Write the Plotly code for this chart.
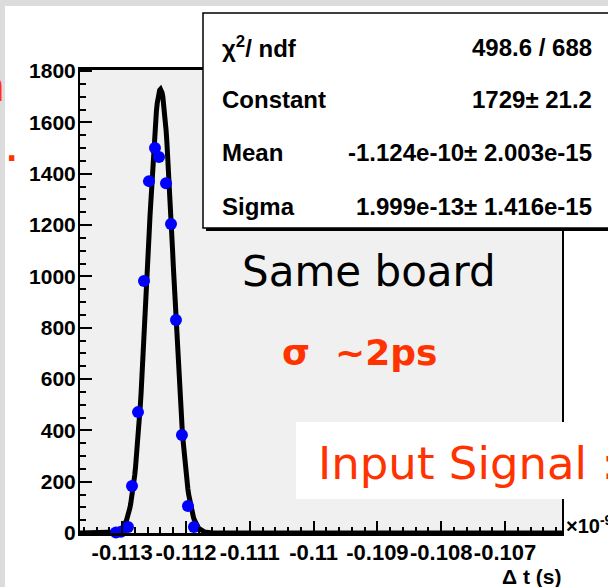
import numpy as np
import plotly.graph_objects as go

# ---- data ----
x_vals = [-0.113097, -0.113019, -0.112909, -0.112846, -0.112752, -0.112658, -0.112580,
          -0.112486, -0.112423, -0.112313, -0.112235, -0.112157, -0.112063, -0.111969, -0.111875]
counts = [2, 5, 23, 183, 471, 982, 1371, 1500, 1465, 1363, 1204, 830, 382, 105, 23]

# fit parameters (from stats box), x in units of 1e-9 s
FIT_CONSTANT = 1729.0
FIT_MEAN = -0.1124
FIT_SIGMA = 0.0001999

x_tickvals = [-0.113, -0.112, -0.111, -0.110, -0.109, -0.108, -0.107]
x_ticktext = ["-0.113", "-0.112", "-0.111", "-0.11", "-0.109", "-0.108", "-0.107"]
y_tickvals = [0, 200, 400, 600, 800, 1000, 1200, 1400, 1600, 1800]

stats_labels = ["\u03c7<sup>2</sup>/ ndf", "Constant", "Mean", "Sigma"]
stats_values = ["498.6 / 688", "1729\u00b1 21.2", "-1.124e-10\u00b1 2.003e-15", "1.999e-13\u00b1 1.416e-15"]

X_RANGE = [-0.113661, -0.106107]
Y_RANGE = [0, 1804]

# ---- geometry helpers (pixel -> paper) ----
W, H = 608, 587
L, R, T, B = 80, 562, 70, 533
def px(x):
    return (x - L) / (R - L)
def py(y):
    return (B - y) / (B - T)

RED = "#ff3300"

xf = np.linspace(X_RANGE[0], X_RANGE[1], 600)
yf = FIT_CONSTANT * np.exp(-0.5 * ((xf - FIT_MEAN) / FIT_SIGMA) ** 2)

fig = go.Figure()
fig.add_trace(go.Scatter(x=xf, y=yf, mode="lines",
                         line=dict(color="black", width=5), hoverinfo="skip"))
fig.add_trace(go.Scatter(x=x_vals, y=counts, mode="markers",
                         marker=dict(color="#0000ff", size=12, line=dict(width=0)),
                         cliponaxis=False))

xtickfont = dict(family="Liberation Sans, Arial, sans-serif", size=22, color="black", weight="bold")
ytickfont = dict(family="Liberation Sans, Arial, sans-serif", size=21, color="black", weight="bold")

fig.update_layout(
    width=W, height=H,
    margin=dict(l=L, r=W - R, t=T, b=H - B, pad=0),
    paper_bgcolor="white", plot_bgcolor="#f0f0f0",
    showlegend=False,
    xaxis=dict(range=X_RANGE, tickmode="array", tickvals=x_tickvals, ticktext=x_ticktext,
               tickangle=0, automargin=False,
               ticks="inside", ticklen=12, tickwidth=2, tickcolor="black",
               minor=dict(ticks="inside", ticklen=6, tickwidth=2, tickcolor="black",
                          tickmode="linear", tick0=-0.113, dtick=0.0002),
               showgrid=False, zeroline=False, showline=True, linecolor="black",
               linewidth=2.5, mirror=True, tickfont=xtickfont, ticklabelstandoff=-2),
    yaxis=dict(range=Y_RANGE, tickmode="array", tickvals=y_tickvals, automargin=False,
               ticks="inside", ticklen=12, tickwidth=2, tickcolor="black",
               minor=dict(ticks="inside", ticklen=6, tickwidth=2, tickcolor="black",
                          tickmode="linear", tick0=0, dtick=50),
               showgrid=False, zeroline=False, showline=True, linecolor="black",
               linewidth=2, mirror=True, tickfont=ytickfont, ticklabelstandoff=-2),
)

shapes = []
# slide background strips
shapes.append(dict(type="rect", xref="paper", yref="paper", x0=px(0), x1=px(W), y0=py(0), y1=py(6),
                   fillcolor="#dcdcdc", line=dict(width=0), layer="above"))
shapes.append(dict(type="rect", xref="paper", yref="paper", x0=px(0), x1=px(5), y0=py(0), y1=py(H),
                   fillcolor="#dcdcdc", line=dict(width=0), layer="above"))
# stats box shadow + box
shapes.append(dict(type="rect", xref="paper", yref="paper", x0=px(206), x1=px(650), y0=py(16), y1=py(231),
                   fillcolor="black", line=dict(width=0), layer="above"))
shapes.append(dict(type="rect", xref="paper", yref="paper", x0=px(203), x1=px(640), y0=py(13), y1=py(228),
                   fillcolor="white", line=dict(color="black", width=1.5), layer="above"))
# white box behind "Input Signal"
shapes.append(dict(type="rect", xref="paper", yref="paper", x0=px(296), x1=px(660), y0=py(422), y1=py(499),
                   fillcolor="white", line=dict(width=0), layer="above"))
fig.update_layout(shapes=shapes)

ann = []
stat_font = dict(family="Liberation Sans, Arial, sans-serif", size=24, color="black", weight="bold")
row_y = [47, 99, 153, 207]
for lab, val, yy in zip(stats_labels, stats_values, row_y):
    ann.append(dict(xref="paper", yref="paper", x=px(220), y=py(yy), text=lab, showarrow=False,
                    xanchor="left", yanchor="middle", font=stat_font))
    ann.append(dict(xref="paper", yref="paper", x=px(594), y=py(yy), text=val, showarrow=False,
                    xanchor="right", yanchor="middle", font=stat_font))

ann.append(dict(xref="paper", yref="paper", x=px(369), y=py(271), text="Same board", showarrow=False,
                xanchor="center", yanchor="middle",
                font=dict(family="DejaVu Sans", size=42, color="black")))
ann.append(dict(xref="paper", yref="paper", x=px(360), y=py(352), text="\u03c3&nbsp; ~2ps", showarrow=False,
                xanchor="center", yanchor="middle",
                font=dict(family="DejaVu Sans", size=36, color=RED, weight="bold")))
ann.append(dict(xref="paper", yref="paper", x=px(316), y=py(463), text="Input Signal :", showarrow=False,
                xanchor="left", yanchor="middle",
                font=dict(family="DejaVu Sans", size=45, color=RED)))
ann.append(dict(xref="paper", yref="paper", x=px(564), y=py(524), text="\u00d710<sup>-9</sup>", showarrow=False,
                xanchor="left", yanchor="middle",
                font=dict(family="Liberation Sans, Arial, sans-serif", size=20, color="black", weight="bold")))
ann.append(dict(xref="paper", yref="paper", x=px(563), y=py(576), text="\u0394 t (s)", showarrow=False,
                xanchor="right", yanchor="middle",
                font=dict(family="Liberation Sans, Arial, sans-serif", size=21, color="black", weight="bold")))
# slide text fragments at left edge
ann.append(dict(xref="paper", yref="paper", x=px(7), y=py(86), text="n", showarrow=False,
                xanchor="right", yanchor="middle",
                font=dict(family="DejaVu Sans", size=45, color=RED, weight="bold")))
ann.append(dict(xref="paper", yref="paper", x=px(11), y=py(150), text=".", showarrow=False,
                xanchor="center", yanchor="middle",
                font=dict(family="DejaVu Sans", size=30, color=RED, weight="bold")))
fig.update_layout(annotations=ann)

fig.write_html("out.html")
